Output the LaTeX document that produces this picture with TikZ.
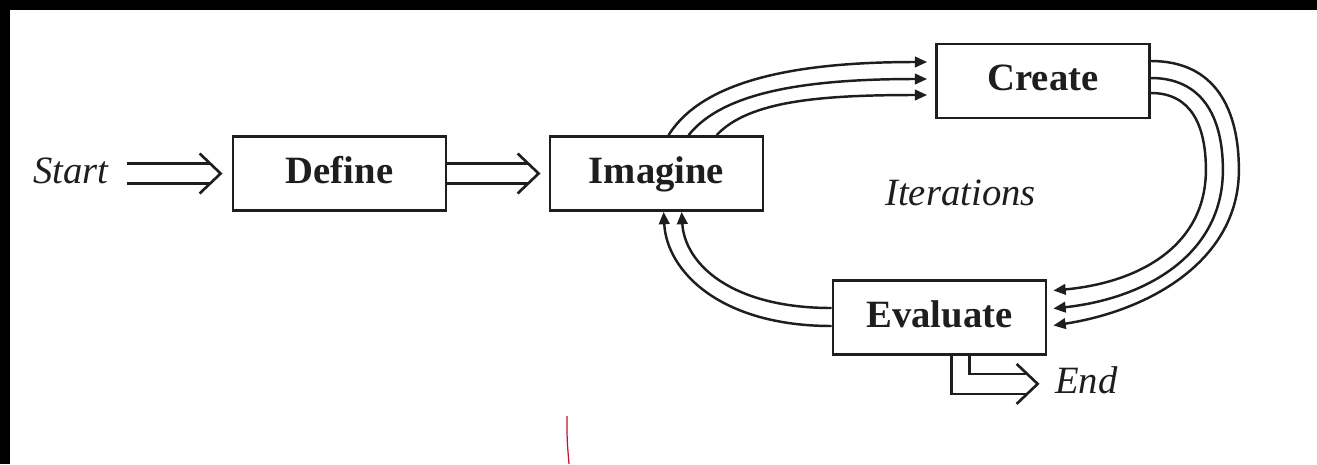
\documentclass[tikz,border=0pt]{standalone}
\usepackage{fontspec}
\setmainfont{Liberation Serif}
\usetikzlibrary{calc,arrows.meta}
\definecolor{ink}{HTML}{1E1E1E}
\definecolor{redmark}{HTML}{C8102E}
% hollow double arrow: #1 tail (centre line), #2 tip; both named coordinates
\newcommand\fatarrow[2]{%
  \draw[fatline] ($#1+(0,-10)$) -- ($#2+(-11,-10)$);
  \draw[fatline] ($#1+(0,10)$) -- ($#2+(-11,10)$);
  \draw[fatline] ($#2+(-21,-20)$) -- #2 -- ($#2+(-21,20)$);}
\begin{document}
\begin{tikzpicture}[x=0.02cm, y=-0.02cm,
  stepbox/.style={draw=ink, line width=1.6pt, minimum width=4.26cm,
    minimum height=1.48cm, inner sep=0pt, text=ink,
    text height=16pt, text depth=4.7pt,
    font=\fontsize{22}{26}\selectfont\bfseries},
  lbl/.style={inner sep=0pt, text=ink, font=\fontsize{22}{26}\selectfont\itshape},
  fatline/.style={draw=ink, line width=1.5pt, line join=miter},
  flow/.style={draw=ink, line width=1.4pt, -{Triangle[length=7pt,width=6pt]}}]
\useasboundingbox (0,0) rectangle (1317,464);
\fill[white] (0,0) rectangle (1317,464);
% frame edges
\fill[black] (0,0) rectangle (1317,10);
\fill[black] (0,0) rectangle (10,464);

% steps
\node[stepbox] (define)   at (339.5,173.5) {Define};
\node[stepbox] (imagine)  at (656.5,173.5) {Imagine};
\node[stepbox] (create)   at (1043,81)     {Create};
\node[stepbox] (evaluate) at (939.5,317.5) {Evaluate};

% labels
\node[lbl, anchor=base west] (start) at (33,183)  {Start};
\node[lbl, anchor=base west] (iter)  at (885,205) {Iterations};
\node[lbl, anchor=base west] (end)   at (1055,393) {End};

% hollow arrows along the main line
\coordinate (s0) at ($(start.east |- define.west)+(18,0)$);
\coordinate (s1) at ($(define.west)+(-11,0)$);
\fatarrow{(s0)}{(s1)}
\coordinate (d0) at (define.east);
\coordinate (d1) at ($(imagine.west)+(-10,0)$);
\fatarrow{(d0)}{(d1)}

% bent exit arrow from Evaluate
\coordinate (e0) at ($(evaluate.south west)+(120,0)$);
\coordinate (e1) at ($(evaluate.south west)+(138,0)$);
\coordinate (etip) at ($(e1)+(68,28)$);
\draw[fatline] (e0) |- ($(etip)+(-11,10)$);
\draw[fatline] (e1) |- ($(etip)+(-11,-10)$);
\draw[fatline] ($(etip)+(-21,-20)$) -- (etip) -- ($(etip)+(-21,20)$);

% Imagine -> Create
\draw[flow] ($(imagine.north west)+(120,0)$) .. controls +(35,-56) and +(-128,0) .. ($(create.west)+(-8,-19)$);
\draw[flow] ($(imagine.north west)+(140,0)$) .. controls +(35,-44) and +(-118,0) .. ($(create.west)+(-8,-2)$);
\draw[flow] ($(imagine.north west)+(168,0)$) .. controls +(32,-34) and +(-108,0) .. ($(create.west)+(-8,14)$);

% Create -> Evaluate
\draw[flow] ($(create.east)+(0,-20)$) .. controls +(65,0) and +(0,-60) .. ($(create.east)+(88,89)$)
  .. controls +(0,90) and +(97,-15) .. ($(evaluate.east)+(6,8)$);
\draw[flow] ($(create.east)+(0,-3)$) .. controls +(50,0) and +(0,-55) .. ($(create.east)+(72,89)$)
  .. controls +(0,85) and +(92,-10) .. ($(evaluate.east)+(6,-9)$);
\draw[flow] ($(create.east)+(0,12)$) .. controls +(40,0) and +(0,-45) .. ($(create.east)+(55,89)$)
  .. controls +(0,75) and +(87,-8) .. ($(evaluate.east)+(6,-27)$);

% Evaluate -> Imagine
\draw[flow] ($(evaluate.west)+(0,8.5)$) .. controls +(-112,0) and +(3,59) .. ($(imagine.south west)+(115,0)$);
\draw[flow] ($(evaluate.west)+(0,-9.5)$) .. controls +(-102,0) and +(3,51) .. ($(imagine.south west)+(133,0)$);

% pen stroke
\draw[redmark, line width=0.7pt] (567,416) .. controls (567,440) .. (569,464);
\end{tikzpicture}
\end{document}
